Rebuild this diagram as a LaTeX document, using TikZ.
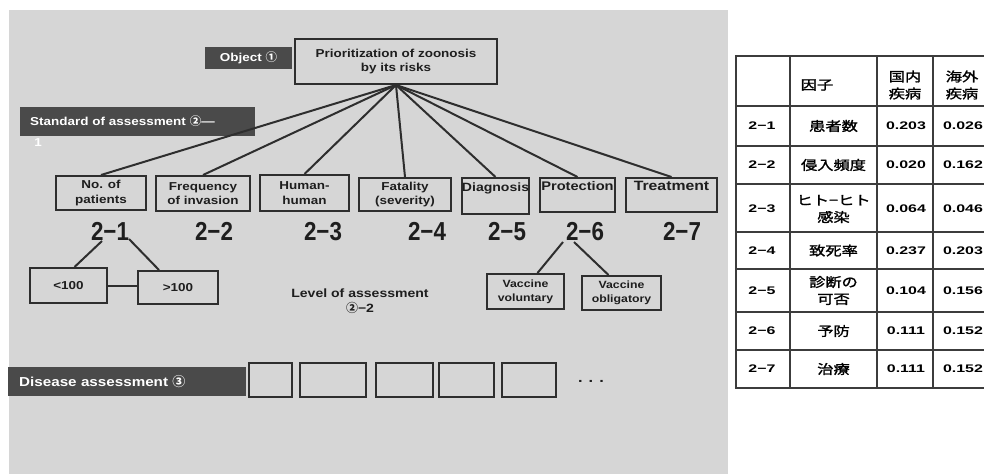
\documentclass[tikz,border=0pt]{standalone}
\usepackage{fontspec}
\setmainfont[FakeStretch=1.17]{Liberation Sans}
\newfontfamily\cjk{Noto Sans CJK JP}
\newfontfamily\cjkwide[FakeStretch=1.25,FakeBold=1.5]{Noto Sans CJK JP}
\newfontfamily\numwide[FakeStretch=1.45]{Liberation Sans}
\newfontfamily\idxfont[FakeStretch=0.86]{Liberation Sans}

\definecolor{panel}{HTML}{D6D6D6}
\definecolor{ink}{HTML}{2E2E2E}
\definecolor{textink}{HTML}{1E1E1E}
\definecolor{darkfill}{HTML}{4A4A4A}
\definecolor{gridline}{HTML}{3C3C3C}

\begin{document}
\begin{tikzpicture}[x=1pt,y=-1pt,
  txt/.style={font=\bfseries\fontsize{11.5}{14.5}\selectfont, text=textink, align=center},
  sz/.style 2 args={minimum width=#1pt, minimum height=#2pt},
  box/.style={txt, draw=ink, line width=2pt, fill=panel, inner sep=0pt},
  emptybox/.style={draw=ink, line width=2pt, inner sep=0pt},
  tag/.style={font=\bfseries\fontsize{11.5}{14}\selectfont, text=white, fill=darkfill, inner sep=0pt},
  conn/.style={draw=ink, line width=2pt},
  idx/.style={font=\idxfont\bfseries\fontsize{26}{26}\selectfont, text=textink, inner sep=0pt, anchor=base},
  grid/.style={draw=gridline, line width=2.4pt},
  cjkcell/.style={font=\cjkwide\fontsize{13}{17}\selectfont, text=black, align=center, inner sep=0pt},
  numcell/.style={font=\numwide\bfseries\fontsize{11}{13}\selectfont, text=black, inner sep=0pt}]

\useasboundingbox (0,0) rectangle (984,474);
\clip (0,0) rectangle (984,474);

% grey panel behind the hierarchy
\fill[panel] (9,10) rectangle (728,474);

% top of the hierarchy
\node[tag, sz={87}{22}] (obj) at (248.5,58) {Object {\cjk ①}};
\node[box, sz={202}{45}] (title) at (396,61.5) {Prioritization of zoonosis\\by its risks};
\node[tag, sz={227}{29}, anchor=west, text width=215pt, align=left, inner xsep=10pt] (std) at (20,121.5)
  {Standard of assessment {\cjk ②}—};
\node[font=\bfseries\fontsize{11.5}{14}\selectfont, text=white, inner sep=0pt] (stdtail) at (38,143) {1};

% assessment criteria
\node[box, sz={90}{34}] (n1) at (101,193) {No. of\\patients};
\node[box, sz={94}{35}] (n2) at (203,193.5) {Frequency\\of invasion};
\node[box, sz={89}{36}] (n3) at (304.5,193) {Human-\\human};
\node[box, sz={92}{33}] (n4) at (405,194.5) {Fatality\\(severity)};
\node[box, sz={67}{36}, font=\bfseries\fontsize{12}{15}\selectfont] (n5) at (495.5,196) {Diagnosis\\\phantom{g}};
\node[box, sz={75}{34}, font=\bfseries\fontsize{12.5}{15}\selectfont] (n6) at (577.5,195) {Protection\\\phantom{g}};
\node[box, sz={91}{34}, font=\bfseries\fontsize{13.5}{15}\selectfont] (n7) at (671.5,195) {Treatment\\\phantom{g}};

\foreach \n in {1,...,7} \draw[conn] (title.south) -- (n\n.north);

% criterion numbers, set on a common baseline
\node[idx] (l1) at (110,240) {2−1};
\node[idx] (l2) at (214,240) {2−2};
\node[idx] (l3) at (323,240) {2−3};
\node[idx] (l4) at (427,240) {2−4};
\node[idx] (l5) at (507,240) {2−5};
\node[idx] (l6) at (585,240) {2−6};
\node[idx] (l7) at (682,240) {2−7};

% levels under 2-1
\node[box, sz={77}{35}] (lt) at (68.5,285.5) {<100};
\node[box, sz={80}{33}] (gt) at (178,287.5) {>100};
\coordinate (s1a) at (102,241);
\coordinate (s1b) at (129,239);
\draw[conn] (s1a) -- ([xshift=6pt]lt.north);
\draw[conn] (s1b) -- ([xshift=-19pt]gt.north);
\draw[conn] (lt.east) -- (lt.east -| gt.west);

% levels under 2-6
\node[box, sz={77}{35}, font=\bfseries\fontsize{10.5}{14}\selectfont] (vv) at (525.5,291.5) {Vaccine\\voluntary};
\node[box, sz={79}{34}, font=\bfseries\fontsize{10.5}{14}\selectfont] (vo) at (621.5,293) {Vaccine\\obligatory};
\coordinate (s6a) at (563,242);
\coordinate (s6b) at (574,242);
\draw[conn] (s6a) -- ([xshift=12pt]vv.north);
\draw[conn] (s6b) -- ([xshift=-13pt]vo.north);

\node[txt, font=\bfseries\fontsize{12}{15}\selectfont] (level) at (360,301) {Level of assessment\\{\cjk ②}−2};

% disease assessment row
\node[tag, sz={228}{29}, anchor=west, text width=216pt, align=left, inner xsep=11pt,
  font=\bfseries\fontsize{13}{15}\selectfont] (dis) at (8,381.5) {Disease assessment {\cjk ③}};
\node[emptybox, sz={43}{34}] (e1) at (270.5,380) {};
\node[emptybox, sz={66}{34}] (e2) at (333,380) {};
\node[emptybox, sz={57}{34}] (e3) at (404.5,380) {};
\node[emptybox, sz={55}{34}] (e4) at (466.5,380) {};
\node[emptybox, sz={54}{34}] (e5) at (529,380) {};
\node[txt, font=\bfseries\fontsize{14}{14}\selectfont] (dots) at (591,381) {. . .};

% weight table
\fill[white] (736,56) rectangle (995,388);
\foreach \yy in {56,106,146,184,232,269,312,350,388}
  \draw[grid] (734.8,\yy) -- (995,\yy);
\foreach \xx in {736,790,877,933}
  \draw[grid] (\xx,56) -- (\xx,388);

\node[cjkcell] (h2) at (817,85) {因子};
\node[cjkcell] (h3) at (905,85) {国内\\疾病};
\node[cjkcell] (h4) at (962,85) {海外\\疾病};

\foreach \k/\id/\nm/\va/\vb/\yc in {
  1/2−1/患者数/0.203/0.026/126,
  2/2−2/侵入頻度/0.020/0.162/165,
  3/2−3/{ヒト−ヒト\\感染}/0.064/0.046/209,
  4/2−4/致死率/0.237/0.203/250.5,
  5/2−5/{診断の\\可否}/0.104/0.156/290.5,
  6/2−6/予防/0.111/0.152/331,
  7/2−7/治療/0.111/0.152/369}{
  \node[numcell] (r\k-id) at (762,\yc) {\id};
  \node[cjkcell] (r\k-nm) at (833.5,\yc) {\nm};
  \node[numcell] (r\k-a) at (906,\yc) {\va};
  \node[numcell] (r\k-b) at (963,\yc) {\vb};
}
\end{tikzpicture}
\end{document}
